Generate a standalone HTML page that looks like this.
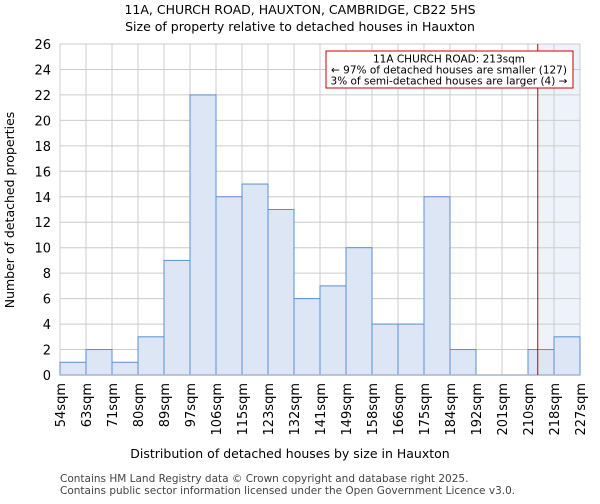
<!DOCTYPE html>
<html><head><meta charset="utf-8"><style>
body{margin:0;background:#fff;font-family:"DejaVu Sans","Liberation Sans",sans-serif;}
</style></head><body>
<svg width="600" height="500" xmlns="http://www.w3.org/2000/svg" font-family="DejaVu Sans, Liberation Sans, sans-serif">
<text x="300" y="14" text-anchor="middle" font-size="12.5">11A, CHURCH ROAD, HAUXTON, CAMBRIDGE, CB22 5HS</text>
<text x="300" y="31" text-anchor="middle" font-size="12.5">Size of property relative to detached houses in Hauxton</text>
<g id="plot"></g>
<text x="290" y="458" text-anchor="middle" font-size="12.5">Distribution of detached houses by size in Hauxton</text>
<text transform="translate(14,210) rotate(-90)" text-anchor="middle" font-size="12.5">Number of detached properties</text>
<text x="60" y="482" font-size="10.5" fill="#444">Contains HM Land Registry data © Crown copyright and database right 2025.</text>
<text x="60" y="494" font-size="10.5" fill="#444">Contains public sector information licensed under the Open Government Licence v3.0.</text>
</svg>
<script>
const categories=["54sqm","63sqm","71sqm","80sqm","89sqm","97sqm","106sqm","115sqm","123sqm","132sqm","141sqm","149sqm","158sqm","166sqm","175sqm","184sqm","192sqm","201sqm","210sqm","218sqm","227sqm"];
const counts=[1,2,1,3,9,22,14,15,13,6,7,10,4,4,14,2,0,0,2,3];
const yTicks=[0,2,4,6,8,10,12,14,16,18,20,22,24,26];
const markerValue=213;
const binStarts=[54,63,71,80,89,97,106,115,123,132,141,149,158,166,175,184,192,201,210,218,227];
const X0=60,X1=580,Y0=375,Y1=44,yMax=26;
const bw=(X1-X0)/counts.length;
const xs=i=>X0+i*bw;
const ys=v=>Y0-(v/yMax)*(Y0-Y1);
const NS="http://www.w3.org/2000/svg";
const g=document.getElementById('plot');
function mk(t,a,p){const e=document.createElementNS(NS,t);for(const k in a)e.setAttribute(k,a[k]);(p||g).appendChild(e);return e;}
let mi=0;for(let i=0;i<binStarts.length-1;i++){if(markerValue>=binStarts[i]&&markerValue<binStarts[i+1])mi=i;}
const mx=xs(mi)+(markerValue-binStarts[mi])/(binStarts[mi+1]-binStarts[mi])*bw;
let hl=mk('rect',{x:mx,y:Y1,width:X1-mx,height:Y0-Y1,fill:'#eef2fa'});


yTicks.forEach(v=>{
 let l=mk('line',{x1:X0,x2:X1,y1:ys(v),y2:ys(v),stroke:'#cccccc','stroke-width':1});
 
 
 let t=mk('text',{x:X0-9,y:ys(v)+5,'text-anchor':'end','font-size':'13'});t.textContent=v;
 
 
});
categories.forEach((c,i)=>{
 let l=mk('line',{x1:xs(i),x2:xs(i),y1:Y1,y2:Y0,stroke:'#cccccc','stroke-width':1});
 
 
 let t=mk('text',{transform:`translate(${xs(i)+5},${Y0+8}) rotate(-90)`,'text-anchor':'end','font-size':'13'});t.textContent=c;
 
 
});
counts.forEach((v,i)=>{
 if(v<=0)return;
 let r=mk('rect',{x:xs(i),y:ys(v),width:bw,height:Y0-ys(v),fill:'#dce6f4',stroke:'#5b8fd6','stroke-width':1});
 
 
});
let ax=mk('line',{x1:X0,x2:X1,y1:Y0,y2:Y0,stroke:'#aab4c8','stroke-width':1.5});


let ml=mk('line',{x1:mx,x2:mx,y1:Y1,y2:Y0,stroke:'#cc0000','stroke-width':1});


let box=mk('rect',{x:326,y:51,width:247,height:37,fill:'#fff',stroke:'#cc0000','stroke-width':1});


const lines=["11A CHURCH ROAD: 213sqm","← 97% of detached houses are smaller (127)","3% of semi-detached houses are larger (4) →"];
lines.forEach((s,i)=>{let t=mk('text',{x:449,y:62.5+i*11,'text-anchor':'middle','font-size':'10.5'});t.textContent=s;
 
 });
</script>
</body></html>
